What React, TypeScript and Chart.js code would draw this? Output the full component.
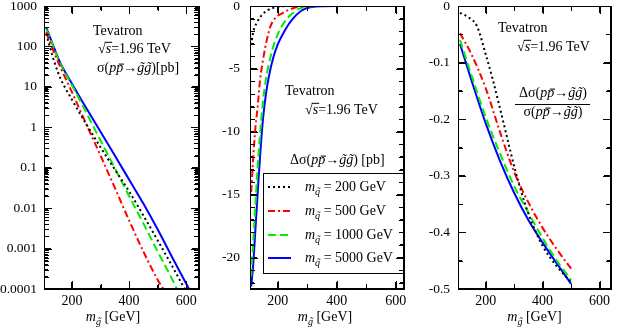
import React, { useEffect, useRef } from 'react';
import { Chart, registerables } from 'chart.js';

Chart.register(...registerables);

// ---------------- data ----------------
// Panel 1: sigma(p pbar -> gluino gluino) [pb] vs gluino mass [GeV]
const sigMassQ200 = [110, 120, 140, 160, 200, 250, 300, 350, 400, 450, 500, 550, 595];
const sigQ200 = [205, 112, 38, 16, 4.8, 1.2, 0.32, 0.091, 0.026, 0.0066, 0.0016, 0.00038, 0.0001];
const sigMassQ500 = [110, 120, 140, 160, 200, 250, 300, 350, 400, 450, 500, 520];
const sigQ500 = [225, 141, 63, 30, 7.4, 1.2, 0.2, 0.032, 0.005, 0.00085, 0.00017, 0.0001];
const sigMassQ1000 = [110, 120, 140, 160, 200, 250, 300, 350, 400, 450, 500, 550, 568];
const sigQ1000 = [265, 178, 79, 36, 11, 2.3, 0.47, 0.098, 0.02, 0.0042, 0.00085, 0.00018, 0.0001];
const sigMassQ5000 = [110, 120, 140, 160, 200, 250, 300, 350, 400, 450, 500, 550, 610];
const sigQ5000 = [290, 190, 83, 38, 12, 3.0, 0.78, 0.2, 0.051, 0.013, 0.003, 0.00063, 0.0001];

// Panel 2: delta sigma [pb]
const dMassQ200 = [110, 115, 120, 130, 145, 165, 190, 215, 250, 300, 400, 500, 650];
const dQ200 = [-3.1, -2.3, -1.8, -1.3, -0.75, -0.35, -0.12, -0.03, -0.005, 0, 0, 0, 0];
const dMassQ500 = [110, 115, 120, 125, 132, 140, 150, 163, 175, 190, 215, 235, 270, 300, 350, 650];
const dQ500 = [-14.8, -12.8, -11.0, -9.5, -8.0, -5.9, -4.3, -2.7, -1.64, -1.0, -0.58, -0.33, -0.06, -0.01, 0, 0];
const dMassQ1000 = [110, 115, 123, 130, 140, 150, 160, 175, 190, 215, 240, 270, 300, 350, 400, 650];
const dQ1000 = [-21.5, -19.5, -16.3, -13.5, -10.2, -7.6, -5.8, -4.1, -2.85, -1.55, -0.8, -0.25, -0.05, -0.005, 0, 0];
const dMassQ5000 = [110, 117, 125, 133, 140, 150, 160, 170, 185, 200, 225, 250, 280, 315, 350, 400, 650];
const dQ5000 = [-22.3, -20.5, -17.5, -14.5, -12.0, -9.0, -7.0, -5.6, -4.1, -3.05, -1.9, -1.05, -0.38, -0.08, -0.01, 0, 0];

// Panel 3: ratio delta sigma / sigma
const rMassQ200 = [110, 140, 170, 200, 225, 250, 275, 300, 325, 350, 375, 400, 450, 500];
const rQ200 = [-0.012, -0.02, -0.036, -0.085, -0.13, -0.18, -0.232, -0.283, -0.328, -0.367, -0.398, -0.424, -0.46, -0.488];
const rMass = [110, 150, 200, 250, 300, 350, 400, 450, 500];
const rQ500 = [-0.048, -0.085, -0.145, -0.222, -0.293, -0.347, -0.392, -0.43, -0.464];
const rQ1000 = [-0.06, -0.122, -0.196, -0.26, -0.318, -0.365, -0.41, -0.45, -0.484];
const rQ5000 = [-0.067, -0.131, -0.207, -0.273, -0.33, -0.378, -0.418, -0.455, -0.491];

// Legend / series labels (squark masses)
const squarkMasses = ['200', '500', '1000', '5000'];

// Ticks
const xMajorTicks = [200, 400, 600];
const xMinorTicks = [300, 500];
const p1YTicks = [0.0001, 0.001, 0.01, 0.1, 1, 10, 100, 1000];
const p1YLabels = ['0.0001', '0.001', '0.01', '0.1', '1', '10', '100', '1000'];
const p2YTicks = [0, -5, -10, -15, -20];
const p2YLabels = ['0', '-5', '-10', '-15', '-20'];
const p3YTicks = [0, -0.1, -0.2, -0.3, -0.4, -0.5];
const p3YLabels = ['0', '-0.1', '-0.2', '-0.3', '-0.4', '-0.5'];
const p3YMinor = [-0.05, -0.15, -0.25, -0.35, -0.45];

// ---------------- styling ----------------
const FONT = '"Liberation Serif", "Times New Roman", serif';
const seriesStyle = [
  { color: '#000000', dash: [2, 3] },
  { color: '#ff0000', dash: [7, 3, 2, 3] },
  { color: '#00ee00', dash: [8, 4] },
  { color: '#0000ff', dash: [] as number[] },
];

type Seg = { t: string; i?: boolean; sub?: boolean; bar?: boolean; tilde?: boolean; rad?: boolean };

function segSize(s: Seg, size: number) {
  return s.sub ? size * 0.72 : size;
}
function segFont(s: Seg, size: number) {
  return `${s.i ? 'italic ' : ''}${segSize(s, size)}px ${FONT}`;
}
function richWidth(ctx: CanvasRenderingContext2D, segs: Seg[], size: number) {
  let w = 0;
  for (const s of segs) {
    ctx.font = segFont(s, size);
    w += ctx.measureText(s.t).width;
  }
  return w;
}
function drawRich(ctx: CanvasRenderingContext2D, segs: Seg[], x: number, y: number, size: number, align: 'left' | 'center' = 'left') {
  let cx = align === 'center' ? x - richWidth(ctx, segs, size) / 2 : x;
  ctx.fillStyle = '#000';
  ctx.textBaseline = 'alphabetic';
  for (const s of segs) {
    const sz = segSize(s, size);
    const by = s.sub ? y + size * 0.28 : y;
    ctx.font = segFont(s, size);
    ctx.textAlign = 'left';
    const w = ctx.measureText(s.t).width;
    ctx.fillText(s.t, cx, by);
    if (s.tilde) {
      ctx.textAlign = 'center';
      ctx.fillText('\u02DC', cx + w / 2 + (s.i ? sz * 0.08 : 0), by + sz * 0.02);
      ctx.textAlign = 'left';
    }
    if (s.bar) {
      ctx.fillRect(cx + (s.i ? sz * 0.18 : 0), by - sz * 0.6, w * 0.75, 1);
    }
    if (s.rad) {
      ctx.fillRect(cx - 1, by - sz * 0.8, w + 2, 1);
    }
    cx += w;
  }
}

const procSegs: Seg[] = [
  { t: '(' },
  { t: 'p', i: true },
  { t: 'p', i: true, bar: true },
  { t: '\u2192' },
  { t: 'g', i: true, tilde: true },
  { t: 'g', i: true, tilde: true },
  { t: ')' },
];
const sqrtSegs: Seg[] = [{ t: '\u221A' }, { t: 's', i: true, rad: true }, { t: '=1.96 TeV' }];
const xTitleSegs: Seg[] = [{ t: 'm', i: true }, { t: 'g', i: true, sub: true, tilde: true }, { t: ' [GeV]' }];

// ---------------- helpers ----------------
function pairs(xs: number[], ys: number[]) {
  return xs.map((x, k) => ({ x, y: ys[k] }));
}

function makeDatasets(series: { x: number[]; y: number[] }[]) {
  return series.map((s, k) => ({
    label: squarkMasses[k],
    data: pairs(s.x, s.y),
    xAxisID: 'x',
    yAxisID: 'y',
    borderColor: seriesStyle[k].color,
    borderDash: seriesStyle[k].dash,
    borderWidth: 2,
    pointRadius: 0,
    fill: false,
    cubicInterpolationMode: 'monotone' as const,
  }));
}

type PanelCfg = {
  xMin: number;
  xMax: number;
  yType: 'linear' | 'logarithmic';
  yMin: number;
  yMax: number;
  yTicks: number[];
  yLabels: string[];
  yMinor: number[];
  yAxisWidth: number;
  yPad: number;
  padRight: number;
  drawText: (ctx: CanvasRenderingContext2D, chart: any) => void;
};

const gridTicks = (len: number) => ({
  display: true,
  drawOnChartArea: false,
  drawTicks: true,
  tickLength: -len,
  color: '#000',
  tickColor: '#000',
  lineWidth: 1,
});

// axis that only contributes the frame edge and inward tick marks
function tickAxis(
  axis: 'x' | 'y',
  position: string,
  type: string,
  min: number,
  max: number,
  values: number[],
  len: number,
  border: boolean
) {
  return {
    type,
    axis,
    position,
    min,
    max,
    weight: 0,
    border: { display: border, color: '#000', width: 1 },
    grid: gridTicks(len),
    ticks: { display: false, autoSkip: false },
    afterBuildTicks: (s: any) => {
      s.ticks = values.map((v) => ({ value: v }));
    },
    afterFit: (s: any) => {
      if (axis === 'x') s.height = 0;
      else s.width = 0;
      s.paddingLeft = 0;
      s.paddingRight = 0;
      s.paddingTop = 0;
      s.paddingBottom = 0;
    },
  };
}

function buildConfig(datasets: any[], p: PanelCfg): any {
  const textPlugin = {
    id: 'richText',
    afterDraw(chart: any) {
      const ctx = chart.ctx;
      ctx.save();
      p.drawText(ctx, chart);
      ctx.restore();
      // frame + inward ticks, also drawn directly on the canvas
      const a = chart.chartArea;
      const xs = chart.scales.x;
      const ys = chart.scales.y;
      ctx.save();
      ctx.fillStyle = '#000';
      const L = Math.round(a.left);
      const R = Math.round(a.right) - 1;
      const T = Math.round(a.top);
      const B = Math.round(a.bottom) - 1;
      ctx.fillRect(L, T, R - L + 1, 1);
      ctx.fillRect(L, B, R - L + 1, 1);
      ctx.fillRect(L, T, 1, B - T + 1);
      ctx.fillRect(R, T, 1, B - T + 1);
      const xt = (v: number, len: number) => {
        const px = Math.round(xs.getPixelForValue(v));
        ctx.fillRect(px, B - len, 1, len);
        ctx.fillRect(px, T + 1, 1, len);
      };
      const yt = (v: number, len: number) => {
        const py = Math.round(ys.getPixelForValue(v));
        ctx.fillRect(L + 1, py, len, 1);
        ctx.fillRect(R - len, py, len, 1);
      };
      xMajorTicks.forEach((v) => xt(v, 7));
      xMinorTicks.forEach((v) => xt(v, 4));
      p.yTicks.forEach((v) => yt(v, 7));
      p.yMinor.forEach((v) => yt(v, 4));
      ctx.restore();
    },
  };

  return {
    type: 'line',
    data: { datasets },
    plugins: [textPlugin],
    options: {
      responsive: false,
      animation: false,
      devicePixelRatio: 1,
      layout: { padding: { left: 0, right: p.padRight, top: 6, bottom: 0 }, autoPadding: false },
      plugins: { legend: { display: false }, tooltip: { enabled: false }, title: { display: false } },
      scales: {
        x: {
          type: 'linear',
          axis: 'x',
          position: 'bottom',
          weight: 1,
          min: p.xMin,
          max: p.xMax,
          grid: gridTicks(7),
          border: { display: true, color: '#000', width: 1 },
          afterBuildTicks: (s: any) => {
            s.ticks = xMajorTicks.map((v) => ({ value: v }));
          },
          ticks: {
            font: { family: FONT, size: 14 },
            color: '#000',
            padding: 11,
            maxRotation: 0,
            autoSkip: false,
            callback: (v: any) => String(v),
          },
          afterFit: (s: any) => {
            s.height = 41;
            s.paddingLeft = 0;
            s.paddingRight = 0;
          },
        },
        y: {
          type: p.yType,
          axis: 'y',
          position: 'left',
          weight: 1,
          min: p.yMin,
          max: p.yMax,
          grid: gridTicks(7),
          border: { display: true, color: '#000', width: 1 },
          afterBuildTicks: (s: any) => {
            s.ticks = p.yTicks.map((v) => ({ value: v }));
          },
          ticks: {
            font: { family: FONT, size: 13.5 },
            color: '#000',
            padding: p.yPad + 7,
            autoSkip: false,
            callback: (_v: any, idx: number) => p.yLabels[idx],
          },
          afterFit: (s: any) => {
            s.width = p.yAxisWidth;
            s.paddingTop = 0;
            s.paddingBottom = 0;
          },
        },
        x2: tickAxis('x', 'bottom', 'linear', p.xMin, p.xMax, xMinorTicks, 4, false),
        x3: tickAxis('x', 'top', 'linear', p.xMin, p.xMax, xMajorTicks, 7, true),
        x4: tickAxis('x', 'top', 'linear', p.xMin, p.xMax, xMinorTicks, 4, false),
        y2: tickAxis('y', 'left', p.yType, p.yMin, p.yMax, p.yMinor, 4, false),
        y3: tickAxis('y', 'right', p.yType, p.yMin, p.yMax, p.yTicks, 7, true),
        y4: tickAxis('y', 'right', p.yType, p.yMin, p.yMax, p.yMinor, 4, false),
      },
    },
  };
}

// log minor ticks (2..9 per decade)
const p1YMinor: number[] = [];
[0.0001, 0.001, 0.01, 0.1, 1, 10, 100].forEach((d) => {
  [2, 3, 4, 5, 6, 7, 8, 9].forEach((k) => p1YMinor.push(k * d));
});
const p2YMinor: number[] = [];
for (let v = -1; v >= -22; v--) if (v % 5 !== 0) p2YMinor.push(v);

function panel1(): any {
  const ds = makeDatasets([
    { x: sigMassQ200, y: sigQ200 },
    { x: sigMassQ500, y: sigQ500 },
    { x: sigMassQ1000, y: sigQ1000 },
    { x: sigMassQ5000, y: sigQ5000 },
  ]);
  return buildConfig(ds, {
    xMin: 102,
    xMax: 645,
    yType: 'logarithmic',
    yMin: 0.0001,
    yMax: 1000,
    yTicks: p1YTicks,
    yLabels: p1YLabels,
    yMinor: p1YMinor,
    yAxisWidth: 44,
    yPad: 7,
    padRight: 6,
    drawText: (ctx) => {
      drawRich(ctx, [{ t: 'Tevatron' }], 93, 35, 14);
      drawRich(ctx, sqrtSegs, 98, 53, 14);
      drawRich(ctx, [{ t: '\u03C3' }, ...procSegs, { t: '[pb]' }], 97, 72, 14);
      drawRich(ctx, xTitleSegs, 113, 321, 14, 'center');
    },
  });
}

function panel2(): any {
  const ds = makeDatasets([
    { x: dMassQ200, y: dQ200 },
    { x: dMassQ500, y: dQ500 },
    { x: dMassQ1000, y: dQ1000 },
    { x: dMassQ5000, y: dQ5000 },
  ]);
  return buildConfig(ds, {
    xMin: 106,
    xMax: 628,
    yType: 'linear',
    yMin: -22.5,
    yMax: 0,
    yTicks: p2YTicks,
    yLabels: p2YLabels,
    yMinor: p2YMinor,
    yAxisWidth: 45,
    yPad: 10,
    padRight: 11,
    drawText: (ctx, chart) => {
      drawRich(ctx, [{ t: 'Tevatron' }], 80, 95, 14);
      drawRich(ctx, sqrtSegs, 100, 114, 14);
      drawRich(ctx, [{ t: '\u0394\u03C3' }, ...procSegs, { t: ' [pb]' }], 85, 164, 14);
      // legend box
      ctx.fillStyle = '#000';
      ctx.fillRect(58, 173, 141, 1);
      ctx.fillRect(58, 273, 141, 1);
      ctx.fillRect(58, 173, 1, 101);
      ctx.fillRect(198, 173, 1, 101);
      const rows = [187, 211, 235, 258];
      chart.data.datasets.forEach((d: any, k: number) => {
        ctx.save();
        ctx.strokeStyle = d.borderColor;
        ctx.lineWidth = 2;
        ctx.setLineDash(d.borderDash);
        ctx.beginPath();
        ctx.moveTo(63, rows[k]);
        ctx.lineTo(86, rows[k]);
        ctx.stroke();
        ctx.restore();
        drawRich(
          ctx,
          [{ t: 'm', i: true }, { t: 'q', i: true, sub: true, tilde: true }, { t: ` = ${squarkMasses[k]} GeV` }],
          100,
          rows[k] + 4,
          14
        );
      });
      drawRich(ctx, xTitleSegs, 120, 321, 14, 'center');
    },
  });
}

function panel3(): any {
  const ds = makeDatasets([
    { x: rMassQ200, y: rQ200 },
    { x: rMass, y: rQ500 },
    { x: rMass, y: rQ1000 },
    { x: rMass, y: rQ5000 },
  ]);
  return buildConfig(ds, {
    xMin: 103,
    xMax: 640,
    yType: 'linear',
    yMin: -0.5,
    yMax: 0,
    yTicks: p3YTicks,
    yLabels: p3YLabels,
    yMinor: p3YMinor,
    yAxisWidth: 43,
    yPad: 8,
    padRight: 16,
    drawText: (ctx) => {
      drawRich(ctx, [{ t: 'Tevatron' }], 83, 32, 14);
      drawRich(ctx, sqrtSegs, 102, 51, 14);
      drawRich(ctx, [{ t: '\u0394\u03C3' }, ...procSegs], 138, 97, 14, 'center');
      ctx.fillStyle = '#000';
      ctx.fillRect(100, 104, 75, 1);
      drawRich(ctx, [{ t: '\u03C3' }, ...procSegs], 138, 116, 14, 'center');
      drawRich(ctx, xTitleSegs, 119.5, 321, 14, 'center');
    },
  });
}

function Panel({ left, width, build }: { left: number; width: number; build: () => any }) {
  const ref = useRef<HTMLCanvasElement>(null);
  useEffect(() => {
    const chart = new Chart(ref.current as HTMLCanvasElement, build());
    return () => chart.destroy();
  }, []);
  return (
    <canvas
      ref={ref}
      width={width}
      height={330}
      style={{ position: 'absolute', left, top: 0, width, height: 330 }}
    />
  );
}

export default function App() {
  return (
    <div style={{ position: 'fixed', left: 0, top: 0, width: 627, height: 330, background: '#fff' }}>
      <Panel left={0} width={205} build={panel1} />
      <Panel left={205} width={210} build={panel2} />
      <Panel left={415} width={212} build={panel3} />
    </div>
  );
}
